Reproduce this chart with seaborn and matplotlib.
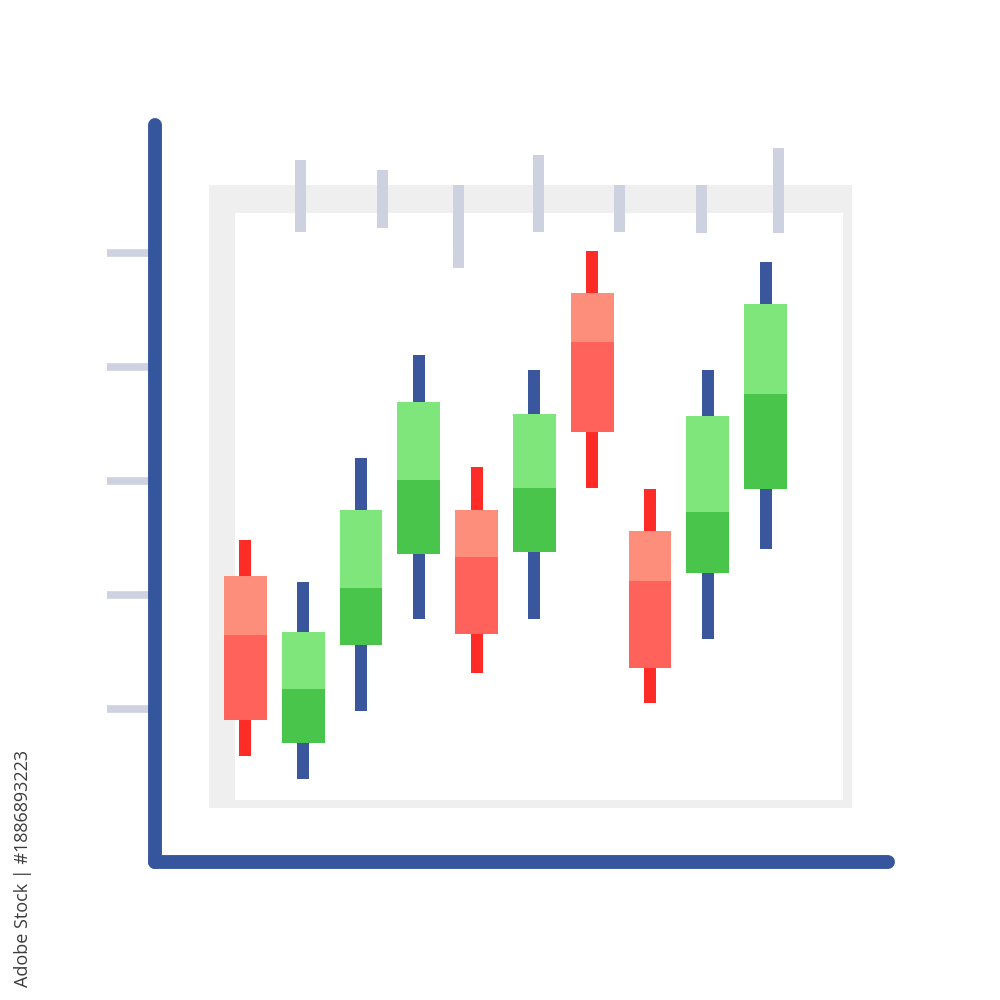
import matplotlib
matplotlib.use("Agg")
import matplotlib.pyplot as plt
import matplotlib.transforms as mtransforms
from matplotlib.patches import Rectangle
import seaborn as sns
import pandas as pd

# ---- data (price units) ----
day = list(range(10))
open_ = [21.7, 7.0, 15.6, 23.6, 27.5, 23.8, 46.5, 25.6, 21.9, 29.3]
close = [9.0, 16.75, 27.5, 36.9, 16.6, 35.9, 34.3, 13.6, 35.7, 45.5]
high = [24.8, 21.1, 32.0, 41.05, 31.2, 39.7, 50.2, 29.3, 39.7, 49.2]
low = [5.9, 3.9, 9.8, 17.9, 13.2, 17.9, 29.4, 10.5, 16.1, 24.0]
split = [16.5, 11.75, 20.6, 30.1, 23.3, 29.4, 42.2, 21.2, 27.3, 37.6]
level_ticks = [10, 20, 30, 40, 50]

df = pd.DataFrame(dict(day=day, open=open_, close=close, high=high, low=low, split=split))
df["up"] = df["close"] >= df["open"]
df["top"] = df[["open", "close"]].max(axis=1)
df["bottom"] = df[["open", "close"]].min(axis=1)

# ---- style ----
sns.set_theme(style="white")
plt.rcParams["font.family"] = ["Open Sans", "DejaVu Sans"]

BLUE = "#35559d"
WICK_BLUE = "#3a569c"
WICK_RED = "#fe2b26"
RED_LIGHT = "#fd8e7c"
RED_DARK = "#fe625a"
GREEN_LIGHT = "#7ee67a"
GREEN_DARK = "#4ac54c"
FRAME = "#efefef"
TICK = "#cdd1e0"

fig = plt.figure(figsize=(10, 10), dpi=100)
fig.patch.set_facecolor("white")

# axes placed so that spines match the icon axes
ax = fig.add_axes([0.155, 0.138, 0.733, 0.737])
ax.set_facecolor("none")

px_per_day = 57.82
x0_px = 245.3
def idx(px):
    return (px - x0_px) / px_per_day
def price(py):
    return 10 + (709 - py) / 11.4

ax.set_xlim(idx(155), idx(888))
ax.set_ylim(price(862), price(125))

# pixel transform (y downward) for decorations
pix = mtransforms.Affine2D().scale(1 / 1000, -1 / 1000).translate(0, 1) + fig.transFigure

# frame
ax.add_patch(Rectangle((209, 185), 643, 623, transform=pix, facecolor=FRAME,
                       edgecolor="none", zorder=0.2, clip_on=False))
ax.add_patch(Rectangle((235, 213), 608, 587, transform=pix, facecolor="white",
                       edgecolor="none", zorder=0.3, clip_on=False))

# hanging marks on top
mark_x = [300, 382, 458, 538, 619, 701, 778]
mark_top = [160, 170, 185, 155, 185, 185, 148]
mark_bot = [232, 228, 268, 232, 232, 233, 233]
for mx, t, b in zip(mark_x, mark_top, mark_bot):
    ax.add_patch(Rectangle((mx - 5.5, t), 11, b - t, transform=pix, facecolor=TICK,
                           edgecolor="none", zorder=0.4, clip_on=False))

# candles
body_w = 0.74
wick_w = 0.21
wick_colors = [WICK_BLUE if u else WICK_RED for u in df["up"]]
light_colors = [GREEN_LIGHT if u else RED_LIGHT for u in df["up"]]
dark_colors = [GREEN_DARK if u else RED_DARK for u in df["up"]]

ax.bar(df["day"], df["high"] - df["low"], bottom=df["low"], width=wick_w,
       color=wick_colors, linewidth=0, zorder=1)
ax.bar(df["day"], df["top"] - df["split"], bottom=df["split"], width=body_w,
       color=light_colors, linewidth=0, zorder=2)
ax.bar(df["day"], df["split"] - df["bottom"], bottom=df["bottom"], width=body_w,
       color=dark_colors, linewidth=0, zorder=2)

# spines and ticks
for s in ["top", "right"]:
    ax.spines[s].set_visible(False)
for s in ["left", "bottom"]:
    sp = ax.spines[s]
    sp.set_visible(True)
    sp.set_color(BLUE)
    sp.set_linewidth(10.0)
    sp.set_capstyle("round")
    sp.set_zorder(3)

ax.set_yticks(level_ticks)
ax.set_yticklabels([])
ax.set_xticks([])
ax.tick_params(axis="y", which="major", direction="out", length=34.5, width=5.5,
               color=TICK, left=True, labelleft=False)
ax.grid(False)

fig.text(0.023, 0.132, "Adobe Stock | #1886893223", rotation=90, ha="center",
         va="center", fontsize=13, color="#3c3c3c")

fig.savefig("out.png", dpi=100, facecolor="white")
